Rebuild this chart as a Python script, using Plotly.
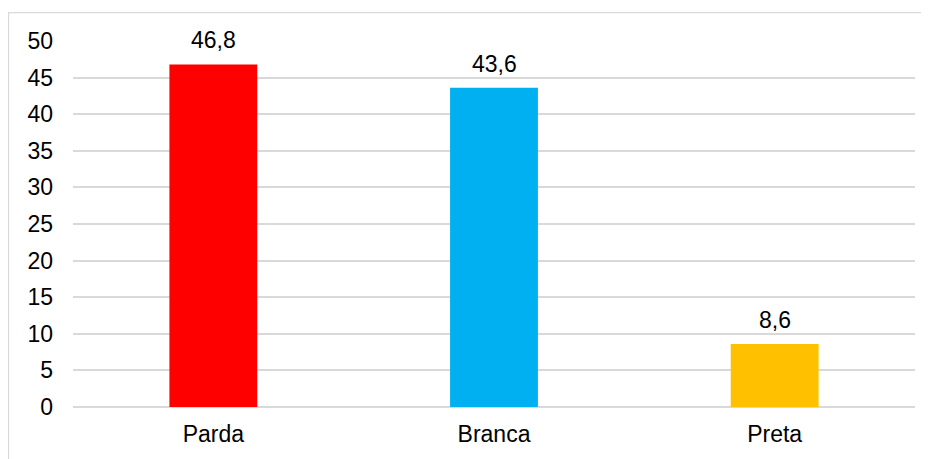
import plotly.graph_objects as go

categories = ["Parda", "Branca", "Preta"]
values = [46.8, 43.6, 8.6]
colors = ["#FF0000", "#00B0F0", "#FFC000"]
labels = [f"{v:.1f}".replace(".", ",") for v in values]
y_ticks = list(range(0, 51, 5))

FONT = "Liberation Sans, Arial, sans-serif"

fig = go.Figure()
fig.add_trace(go.Bar(
    x=categories, y=values, marker=dict(color=colors, line=dict(width=0)),
    width=0.313, hoverinfo="skip",
))

for c, v, t in zip(categories, values, labels):
    fig.add_annotation(x=c, y=v, text=t, showarrow=False, yanchor="bottom",
                       yshift=9, font=dict(family=FONT, size=23, color="#000000"))

# page body has an 8px margin
W, H = 921, 451
L, R, T, B = 65, 14, 33, 50
pw, ph = W - L - R, H - T - B
fig.add_shape(type="rect", xref="paper", yref="paper",
              x0=(0.5 - L) / pw, x1=(W + 20 - L) / pw,
              y0=-(H + 20 - T - ph) / ph, y1=(H - 4.5 - B) / ph,
              line=dict(color="#D9D9D9", width=1.3), fillcolor="rgba(0,0,0,0)", layer="below")

fig.update_layout(
    width=W, height=H,
    margin=dict(l=L, r=R, t=T, b=B, pad=0),
    paper_bgcolor="white", plot_bgcolor="white",
    showlegend=False,
    font=dict(family=FONT, size=23, color="#000000"),
    xaxis=dict(showgrid=False, showline=False, zeroline=False, ticks="",
               tickfont=dict(family=FONT, size=23), ticklabelstandoff=11),
    yaxis=dict(range=[0, 50], tickvals=y_ticks, showgrid=True, gridcolor="#D9D9D9",
               gridwidth=1.6, zeroline=True, zerolinecolor="#D9D9D9", zerolinewidth=1.6,
               showline=False, ticks="", tickfont=dict(family=FONT, size=23),
               ticklabelstandoff=19),
)

fig.write_html("out.html")
